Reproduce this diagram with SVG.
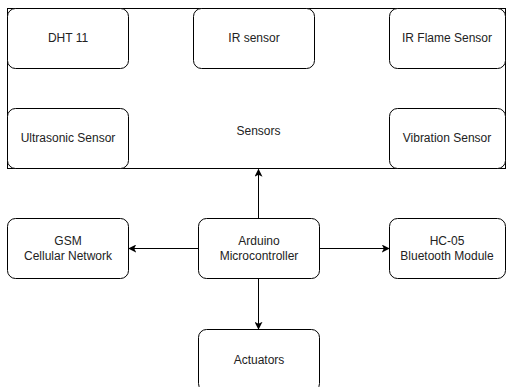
<svg xmlns="http://www.w3.org/2000/svg" width="506" height="387" viewBox="0 0 506 387">
<defs>
<style>
.box{fill:#fff;stroke:#000;stroke-width:1}
.t{font-family:"Liberation Sans",Arial,sans-serif;font-size:12px;fill:#222;text-anchor:middle}
.c{stroke:#000;stroke-width:1;fill:none}
</style>
<marker id="ah" viewBox="0 0 10 10" refX="9" refY="5" markerWidth="8" markerHeight="8" markerUnits="userSpaceOnUse" orient="auto">
<path d="M0,0 L10,5 L0,10 L2.5,5 Z" fill="#000"/>
</marker>
</defs>
<rect width="506" height="387" fill="#fff"/>
<g id="sensors">
<rect class="box" x="7.5" y="8.5" width="498" height="160"/>
<text class="t" x="258.5" y="135">Sensors</text>
</g>
<g id="dht11">
<rect class="box" x="7.5" y="8.5" width="121" height="60" rx="8"/>
<text class="t" x="68" y="42">DHT 11</text>
</g>
<g id="ir">
<rect class="box" x="193.5" y="8.5" width="121" height="60" rx="8"/>
<text class="t" x="254" y="42">IR sensor</text>
</g>
<g id="flame">
<rect class="box" x="389.5" y="8.5" width="116" height="60" rx="8"/>
<text class="t" x="447" y="42">IR Flame Sensor</text>
</g>
<g id="ultrasonic">
<rect class="box" x="7.5" y="108.5" width="121" height="60" rx="8"/>
<text class="t" x="68" y="142">Ultrasonic Sensor</text>
</g>
<g id="vibration">
<rect class="box" x="389.5" y="108.5" width="116" height="60" rx="8"/>
<text class="t" x="447" y="142">Vibration Sensor</text>
</g>
<g id="gsm">
<rect class="box" x="7.5" y="218.5" width="121" height="60" rx="8"/>
<text class="t" x="68" y="245">GSM</text>
<text class="t" x="68" y="260">Cellular Network</text>
</g>
<g id="arduino">
<rect class="box" x="198.5" y="218.5" width="121" height="60" rx="8"/>
<text class="t" x="259" y="245">Arduino</text>
<text class="t" x="259" y="260">Microcontroller</text>
</g>
<g id="hc05">
<rect class="box" x="389.5" y="218.5" width="116" height="60" rx="8"/>
<text class="t" x="447" y="245">HC-05</text>
<text class="t" x="447" y="260">Bluetooth Module</text>
</g>
<g id="actuators">
<rect class="box" x="198.5" y="329.5" width="121" height="62" rx="8"/>
<text class="t" x="259" y="364">Actuators</text>
</g>
<g id="connectors">
<line class="c" x1="258.5" y1="218.5" x2="258.5" y2="169.5" marker-end="url(#ah)"/>
<line class="c" x1="198.5" y1="248.5" x2="129" y2="248.5" marker-end="url(#ah)"/>
<line class="c" x1="319.5" y1="248.5" x2="389" y2="248.5" marker-end="url(#ah)"/>
<line class="c" x1="258.5" y1="278.5" x2="258.5" y2="329" marker-end="url(#ah)"/>
</g>
</svg>
